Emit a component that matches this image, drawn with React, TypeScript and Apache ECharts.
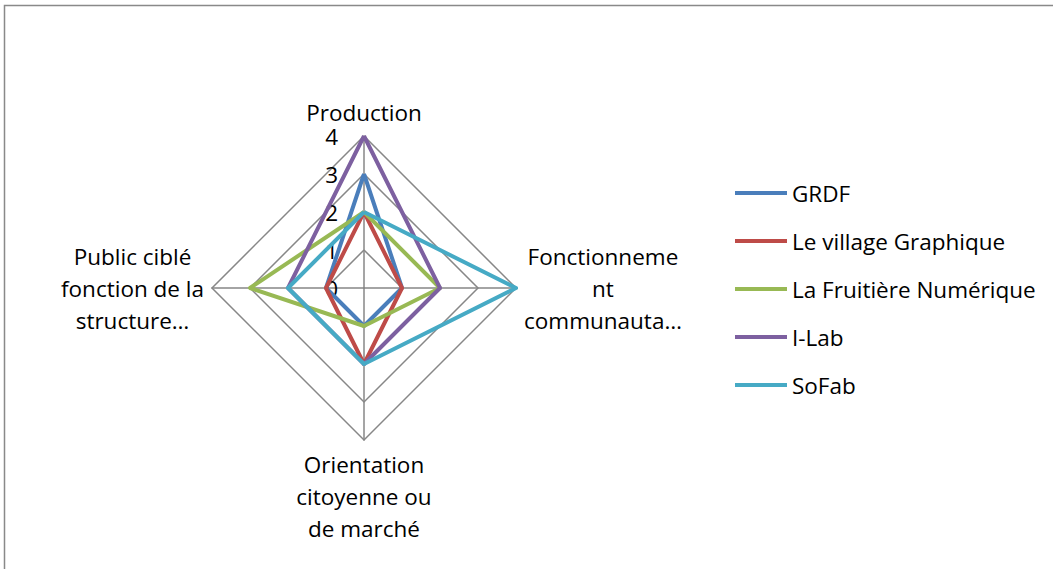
import React, { useEffect, useRef } from "react";
import * as echarts from "echarts";

// radar indicators go counter-clockwise from the top: top, left, bottom, right
const indicators = [
  "Production",
  "Public ciblé\nfonction de la\nstructure…",
  "Orientation\ncitoyenne ou\nde marché",
  "Fonctionneme\nnt\ncommunauta…",
];
const seriesNames = ["GRDF", "Le village Graphique", "La Fruitière Numérique", "I-Lab", "SoFab"];
const grdf = [3, 1, 1, 1];
const village = [2, 1, 2, 1];
const fruitiere = [2, 3, 1, 2];
const ilab = [4, 2, 2, 2];
const sofab = [2, 2, 2, 4];
const colors = ["#4A7EBB", "#BE4B48", "#98B954", "#7D60A0", "#46AAC5"];
const tickLabels = ["0", "1", "2", "3", "4"];

export default function App() {
  const ref = useRef<HTMLDivElement>(null);
  useEffect(() => {
    const chart = echarts.init(ref.current!, null, { renderer: "svg" });
    const values = [grdf, village, fruitiere, ilab, sofab];
    const font = "'Open Sans', 'Noto Sans', sans-serif";
    const fs = 22.5;
    chart.setOption({
      animation: false,
      textStyle: { fontFamily: font },
      graphic: [
        {
          type: "rect",
          shape: { x: 4.5, y: 5.5, width: 1100, height: 600 },
          style: { fill: "none", stroke: "#898989", lineWidth: 1.5 },
          silent: true,
        },
      ],
      legend: {
        orient: "vertical",
        left: 730,
        top: 176,
        itemWidth: 52,
        itemHeight: 4,
        itemGap: 24,
        icon: "rect",
        data: seriesNames,
        textStyle: { fontSize: fs, color: "#000", fontFamily: font, lineHeight: 24, padding: [0, 0, 0, 0] },
      },
      radar: {
        center: [364, 288],
        radius: 152,
        shape: "polygon",
        startAngle: 90,
        splitNumber: 4,
        indicator: indicators.map((n) => ({ name: n, min: 0, max: 4 })),
        axisName: {
          color: "#000",
          fontSize: fs,
          fontFamily: font,
          lineHeight: 32,
          formatter: (name: string) =>
            name
              .split("\n")
              .map((l) => "{c|" + l + "}")
              .join("\n"),
          rich: {
            c: { align: "center", fontSize: fs, fontFamily: font, lineHeight: 32, color: "#000" },
          },
        },
        nameGap: 8,
        splitLine: { lineStyle: { color: "#878787", width: 1.5 } },
        splitArea: { show: false },
        axisLine: { lineStyle: { color: "#878787", width: 1.5 } },
        axisTick: { show: false },
        axisLabel: { show: false },
      },
      grid: { left: 364, top: 136, width: 1, height: 152 },
      xAxis: { type: "value", show: false },
      yAxis: {
        type: "value",
        min: 0,
        max: 4,
        interval: 1,
        axisLine: { show: false },
        axisTick: { show: false },
        splitLine: { show: false },
        axisLabel: {
          color: "#000",
          fontSize: fs,
          fontFamily: font,
          lineHeight: 16,
          margin: 26,
          formatter: (v: number) => tickLabels[v] ?? String(v),
        },
      },
      series: values.map((vals, i) => ({
        type: "radar",
        name: seriesNames[i],
        symbol: "none",
        color: colors[i],
        lineStyle: { color: colors[i], width: 4 },
        itemStyle: { color: colors[i] },
        data: [{ value: vals, name: seriesNames[i] }],
      })),
    });
    return () => chart.dispose();
  }, []);
  return (
    <div
      ref={ref}
      style={{ position: "fixed", left: 0, top: 0, width: 1053, height: 569, background: "#fff" }}
    />
  );
}
